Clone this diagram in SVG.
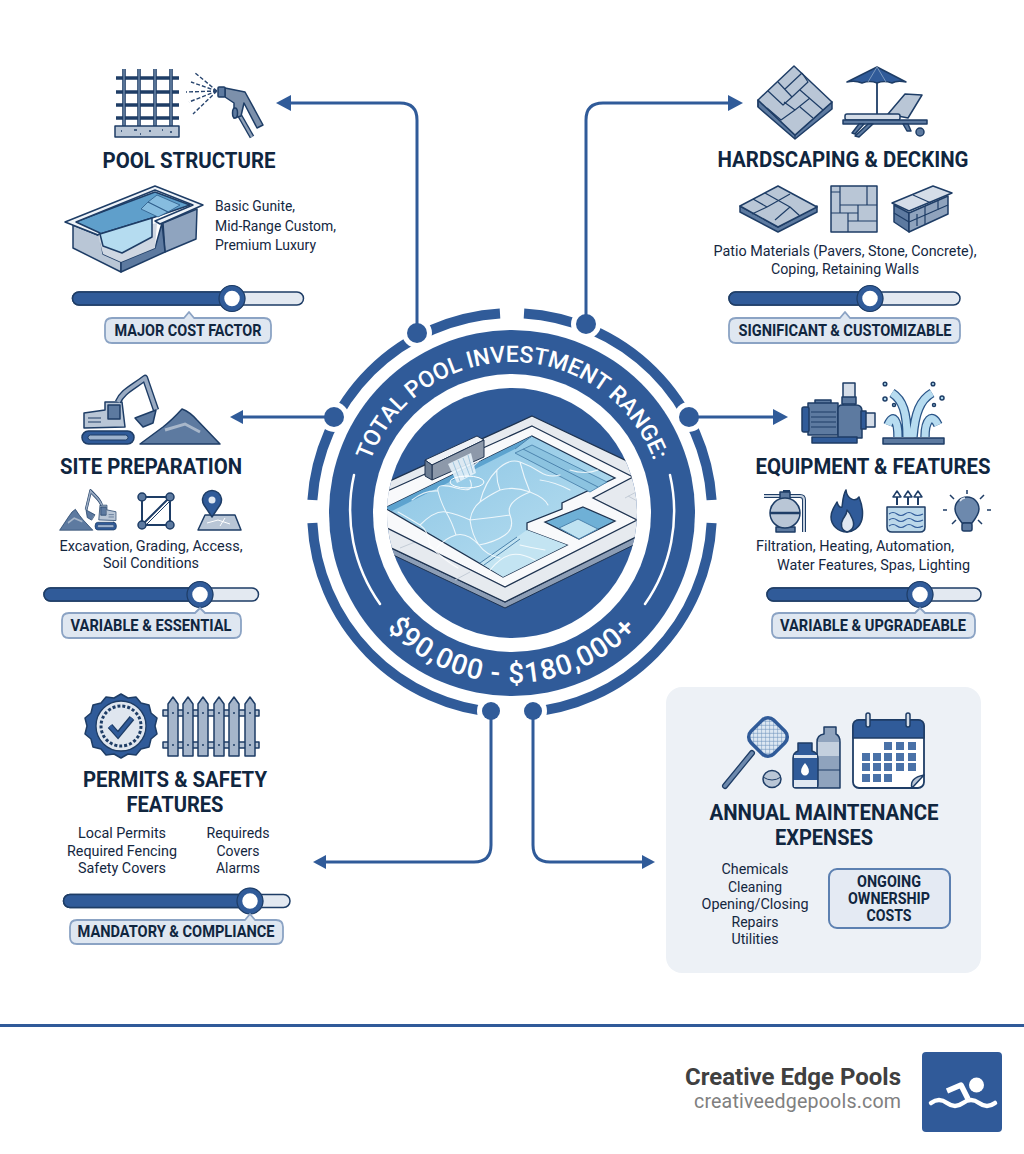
<svg xmlns="http://www.w3.org/2000/svg" width="1024" height="1154" viewBox="0 0 1024 1154">
<style>
text{font-family:Roboto,"Liberation Sans",sans-serif}
.ti{font-size:22.5px;font-weight:700;fill:#10263f;text-anchor:middle}
.bo{font-size:15px;fill:#14273f}
.m{text-anchor:middle}
.pi{font-size:16px;font-weight:700;fill:#10263f;text-anchor:middle}
.arc{fill:none;stroke:#305b99;stroke-width:10}
.con{fill:none;stroke:#305b99;stroke-width:3}
.ah{fill:#305b99}
.dot{fill:#305b99}
.ln{stroke:#1e3d66;stroke-width:1.5;stroke-linejoin:round;stroke-linecap:round}
.th{fill:none;stroke:#1e3d66;stroke-width:1.2;stroke-linejoin:round}
.g1{fill:#b9c6d6}.g2{fill:#8fa3bd}.g3{fill:#5d7aa0}.g4{fill:#d5dde8}.g5{fill:#305b99}
.tr{fill:#e3e9f1;stroke:#1e3d66;stroke-width:1.5}
.fi{fill:#305b99;stroke:#1e3d66;stroke-width:1.5}
.kn{fill:#fff;stroke:#305b99;stroke-width:5.5}
.kn2{fill:none;stroke:#1e3d66;stroke-width:1.2}
.pl{fill:#dfe7f1;stroke:#8ba3c4;stroke-width:1.8;stroke-linejoin:round}
.ca{fill:none;stroke:#fff;stroke-width:1.1;opacity:.8;stroke-linecap:round}
</style>
<defs>
<clipPath id="cp"><circle cx="512" cy="513" r="125"/></clipPath>
<linearGradient id="wa" x1="0" y1="0" x2="1" y2="1"><stop offset="0" stop-color="#86c2e3"/><stop offset="1" stop-color="#bfe2f2"/></linearGradient>
<pattern id="mesh" width="4" height="4" patternUnits="userSpaceOnUse" patternTransform="rotate(45)"><rect width="4" height="4" fill="#dce7f2"/><path d="M0 0H4M0 0V4" stroke="#6f93bd" stroke-width="1.2"/></pattern>
<g id="exc">
<path class="ln g3" d="M140 444 163 427Q172 420 182 409 190 412 197 420L220 444Z"/>
<path d="M165 430 185 424 200 432" fill="none" stroke="#a8b7ca" stroke-width="3"/>
<rect class="ln g5" x="82" y="431" width="52" height="13" rx="6.500"/>
<rect x="88" y="435" width="40" height="5" rx="2.500" fill="#9db2cd" stroke="#1e3d66"/>
<path class="ln g1" d="M84 413 105 410 105 402 122 402 125 427 84 428Z"/>
<rect class="ln g3" x="108" y="405" width="12" height="14"/>
<path d="M88 418H101M88 422H101" stroke="#1e3d66"/>
<path d="M118 402C122 392 132 388 145 378L156 410" fill="none" stroke="#1e3d66" stroke-width="6.500" stroke-linejoin="round"/>
<path d="M118 402C122 392 132 388 145 378L156 410" fill="none" stroke="#9aabc2" stroke-width="3.800" stroke-linejoin="round"/>
<path class="ln g3" d="M135 418 156 410 153 423 143 427Z"/>
</g>
</defs>
<rect width="1024" height="1154" fill="#fff"/>

<g id="center">
<path class="arc" d="M500 313.400A200 200 0 0 0 312.400 500"/>
<path class="arc" d="M524 313.400A200 200 0 0 1 711.600 500"/>
<path class="arc" d="M711.600 523A200 200 0 0 1 526 712.500"/>
<path class="arc" d="M312.400 523A200 200 0 0 0 498 712.500"/>
<circle cx="512" cy="513" r="183" fill="#305b99"/>
<circle cx="512" cy="513" r="139" fill="#fff"/>
<circle cx="512" cy="513" r="125" fill="#305b99"/>
<path d="M354 475A162 162 0 0 0 380 604M670 475A162 162 0 0 1 645 604" fill="none" stroke="#fff" stroke-width="2.500" stroke-linecap="round"/>
<path id="pt" d="M361 513A151 151 0 0 1 663 513" fill="none"/>
<path id="pb" d="M342 513A170 170 0 0 0 682 513" fill="none"/>
<text font-size="23" font-weight="500" fill="#fff" text-anchor="middle"><textPath href="#pt" startOffset="50%">TOTAL POOL INVESTMENT RANGE:</textPath></text>
<text font-size="28" font-weight="500" fill="#fff" text-anchor="middle" letter-spacing="1.200"><textPath href="#pb" startOffset="50%">$90,000 - $180,000+</textPath></text>
<g clip-path="url(#cp)">
<path d="M370 538 505 602 650 530V537L505 608 370 544Z" fill="#8c9db5" stroke="#1e3350"/>
<path d="M532 416 650 472V530L505 602 370 538V490Z" fill="#e6eaef" stroke="#1e3350" stroke-width="1.300"/>
<path d="M640 490 625 498M628 496 650 508M400 548 420 540M455 580 470 572" stroke="#c4ccd6" fill="none"/>
<path d="M532 426 633 477 593 498 637 520 505 587 385 527V492Z" fill="#f8f9fb" stroke="#1e3350" stroke-width="1.300"/>
<path d="M532 436 615 478 562 503 562 509 527 523V530L567 545 503 577 385 508Z" fill="url(#wa)" stroke="#1e3350" stroke-width="1.300"/>
<path d="M385 508 532 436 515 449 392 511Z" fill="#5da3cf"/>
<path d="M515 453 532 445 607 482 590 492Z" fill="#8cc3e0" stroke="#4c83ad" stroke-width=".9"/>
<path d="M523 449 598 487M532 436 515 449" stroke="#4c83ad" fill="none" stroke-width="1"/>
<path d="M517 537 527 530 567 545 503 577 480 563Z" fill="#c3e4f2"/>
<path d="M517 537 480 563M520 539 484 565" stroke="#4c83ad" fill="none" stroke-width="1"/>
<path d="M583 507 615 521 579 539 545 522Z" fill="#6fb0d6" stroke="#1e3350" stroke-width="1.300"/>
<path d="M578 519 598 529 579 539 559 528Z" fill="#bfe2f1" stroke="#4c83ad"/>
<path class="ca" d="M398 512Q412 520 420 525T430 546Q444 560 458 568M420 525Q435 510 446 512T470 520Q472 508 480 502T500 490Q515 486 530 492T548 505M470 520Q472 535 479 545T500 558M446 512Q440 500 438 491T456 488 470 480M480 502Q485 482 497 470T520 462 540 472 560 475M500 490Q496 480 497 470M530 492Q524 478 520 462M479 545Q495 542 505 535T510 515 530 492M437 548Q445 538 456 535T479 545M510 515Q490 518 470 520M412 500Q425 490 438 491M456 535Q452 522 446 512"/>
<path class="ca" d="M490 570Q500 558 510 555T535 560M520 545Q532 548 545 550M540 480Q555 482 570 490M470 470Q480 458 490 455M570 470Q585 475 598 470"/>
<path d="M425 460 477 436 484 440 432 465Z" fill="#eef1f5" stroke="#1e3350"/>
<path d="M432 465 484 440V457L432 480Z" fill="#8d99aa" stroke="#1e3350"/>
<path d="M425 460 432 465V480L425 476Z" fill="#6c7d93" stroke="#1e3350"/>
<path d="M448 464 471 453 476 473 457 483Z" fill="#e5f2f9" opacity=".9"/>
<path d="M453 462 460 481M458 460 465 478M463 458 470 476M468 455 473 473" stroke="#8fbcd9" stroke-width=".8"/>
<ellipse cx="467" cy="482" rx="17" ry="6" fill="none" stroke="#fff" stroke-width="1"/>
</g>
<g fill="#fff"><circle cx="417" cy="333" r="15"/><circle cx="586" cy="324" r="15"/><circle cx="334" cy="417" r="15"/><circle cx="689" cy="417" r="15"/><circle cx="491" cy="711" r="14"/><circle cx="533" cy="711" r="14"/></g>
</g>

<g id="connectors">
<path class="con" d="M417 333V120Q417 103 400 103H288"/><path class="ah" d="M276 103 291 95V111Z"/>
<path class="con" d="M586 324V120Q586 103 603 103H730"/><path class="ah" d="M743 103 728 95V111Z"/>
<path class="con" d="M334 417H241"/><path class="ah" d="M230 417 243 410V424Z"/>
<path class="con" d="M689 417H775"/><path class="ah" d="M788 417 773 409V425Z"/>
<path class="con" d="M491 711V845Q491 862 474 862H325"/><path class="ah" d="M313 862 326 855V869Z"/>
<path class="con" d="M533 711V845Q533 862 550 862H642"/><path class="ah" d="M655 862 642 855V869Z"/>
</g>
<g id="connector-dots">
<circle cx="417" cy="333" r="10" class="dot"/>
<circle cx="586" cy="324" r="10" class="dot"/>
<circle cx="334" cy="417" r="10" class="dot"/>
<circle cx="689" cy="417" r="10" class="dot"/>
<circle cx="491" cy="711" r="9" class="dot"/>
<circle cx="533" cy="711" r="9" class="dot"/>
</g>

<g id="pool-structure">
<g stroke="#1e3d66" stroke-width="3.600"><path d="M124 69V126M139 69V126M155 69V126M171 69V126M116 78H179M116 92H179M116 105H179M116 118H179" fill="none"/></g>
<g stroke="#7e98b8" stroke-width="1.200"><path d="M124 69V126M139 69V126M155 69V126M171 69V126" fill="none"/></g>
<rect class="ln g1" x="115" y="126" width="64" height="11"/>
<path d="M121 131h1M134 130h3M149 131h2M140 134h1M162 130h1M170 132h2" stroke="#1e3d66" stroke-width="1.600"/>
<path d="M217 91 194 72M217 91 191 82M217 91 186 92M217 91 189 102M217 91 193 114" stroke="#28456e" stroke-width="1.400" stroke-dasharray="4 2" fill="none"/>
<path d="M240 116 252 137" stroke="#1e3d66" stroke-width="5"/><path d="M240 116 252 137" stroke="#8ea0b8" stroke-width="2.500"/>
<path class="ln" fill="#7c90ab" d="M225 88 245 92 263 125 257 128 244 103 241 116 234 118 234 103 225 97Z"/>
<rect class="ln g3" x="218" y="87" width="7" height="10" rx="1"/>
<ellipse class="ln g3" cx="235" cy="113" rx="2.500" ry="5"/>
<text class="ti" x="189" y="168" textLength="173" lengthAdjust="spacingAndGlyphs">POOL STRUCTURE</text>
<path class="ln" fill="#8fa4bf" d="M163 223 197 209 196 239 165 252Z"/>
<path class="ln g1" d="M73 225 100 236 103 254 121 262V272L73 248Z"/>
<path class="ln g3" d="M121 262 155 248 162 223 165 252 121 272Z"/>
<path fill="#cfd7e2" d="M98 235 157 223 155 248 121 262 103 254Z"/>
<path class="ln" fill="#5f9fcb" d="M75 222 155 192 190 205 152 218 100 234Z"/>
<path class="ln" fill="#b5dcf0" d="M100 234 152 218 152 237 122 253 103 246Z"/>
<path fill="#86bcdf" stroke="#2c5a88" stroke-width=".8" d="M157 195 180 205 168 212 148 202ZM148 202 168 212 158 217 141 209Z"/>
<path class="ln" fill="#eef3f8" fill-rule="evenodd" d="M65 222 155 186 203 205 160 224 155 221 193 205 155 190 76 222 100 233 98 235Z"/>
<text class="bo" x="215" y="211" textLength="80" lengthAdjust="spacingAndGlyphs">Basic Gunite,</text>
<text class="bo" x="215" y="231" textLength="121" lengthAdjust="spacingAndGlyphs">Mid-Range Custom,</text>
<text class="bo" x="215" y="250" textLength="101" lengthAdjust="spacingAndGlyphs">Premium Luxury</text>
<rect class="tr" x="72.500" y="292" width="231" height="13" rx="6.500"/>
<path class="fi" d="M232 292H79a6.500 6.500 0 0 0 0 13H232Z"/>
<circle class="kn" cx="232" cy="298.500" r="10.500"/><circle class="kn2" cx="232" cy="298.500" r="13"/>
<path class="pl" d="M112 318H184L189 312 194 318H264Q271 318 271 325V336Q271 343 264 343H112Q105 343 105 336V325Q105 318 112 318Z"/>
<text class="pi" x="188" y="336" textLength="147" lengthAdjust="spacingAndGlyphs">MAJOR COST FACTOR</text>
</g>

<g id="hardscaping">
<path class="ln g3" d="M758 100V107L795 139 832 109V102L795 135Z"/>
<path class="ln g1" d="M794 66 832 102 795 135 758 100Z"/>
<path class="th" d="M802 73 785 89M778 82 792 97 808 82 802 73M768 91 783 105 792 97M800 90 823 110M810 98 795 110 784 102M800 107 813 118M767 108 781 120 795 110M795 135V139M758 100V107"/>
<path class="ln g5" d="M877 67 906 82Q897 80 892 83 884 80 877 83 870 80 862 83 855 80 847 82Z"/>
<path d="M877 67 868 82M877 67 886 82" stroke="#8fa8c8" stroke-width=".8"/>
<path d="M877 83V114" stroke="#1e3d66" stroke-width="1.800"/>
<path class="ln g1" d="M888 114 905 94 922 95 908 118Z"/>
<rect class="ln g4" x="845" y="114" width="55" height="6" rx="2"/>
<rect class="ln g3" x="843" y="120" width="84" height="4"/>
<path class="ln g3" d="M859 124 864 124 855 134 852 133ZM868 124 873 124 859 137 855 136ZM903 124 908 124 911 131 907 131Z"/>
<circle class="ln g3" cx="920" cy="132" r="4"/>
<text class="ti" x="843" y="167" textLength="251" lengthAdjust="spacingAndGlyphs">HARDSCAPING &amp; DECKING</text>
<path class="ln g3" d="M740 206V212L778 232 817 212V206L778 227Z"/>
<path class="ln g1" d="M778 186 817 207 778 227 740 206Z"/>
<path class="th" d="M765 193 790 207 775 220M753 199 767 207 790 194M767 207 752 214M790 207 800 216"/>
<rect class="ln g1" x="831" y="186" width="46" height="46"/>
<path class="th" d="M840 186V213M867 186V205M858 205V221M848 213V232M840 205H877M831 213H858M848 221H877M831 192H840"/>
<path class="ln g3" d="M894 205 909 213 909 232 894 222Z"/>
<path class="ln g2" d="M909 213 948 196 948 214 909 232Z"/>
<path class="ln g4" d="M892 203 933 186 952 193 909 211Z"/>
<path class="th" d="M894 213 909 222M909 222 948 205M925 206V224M938 200V210M917 214V226M913 195 931 203"/>
<text class="bo m" x="845" y="256" textLength="263" lengthAdjust="spacingAndGlyphs">Patio Materials (Pavers, Stone, Concrete),</text>
<text class="bo m" x="845" y="274" textLength="148" lengthAdjust="spacingAndGlyphs">Coping, Retaining Walls</text>
<rect class="tr" x="729" y="292" width="231" height="13" rx="6.500"/>
<path class="fi" d="M870 292H735.500a6.500 6.500 0 0 0 0 13H870Z"/>
<circle class="kn" cx="870" cy="298.500" r="10.500"/><circle class="kn2" cx="870" cy="298.500" r="13"/>
<path class="pl" d="M736 318H840L845 312 850 318H953Q960 318 960 325V336Q960 343 953 343H736Q729 343 729 336V325Q729 318 736 318Z"/>
<text class="pi" x="845" y="336" textLength="213" lengthAdjust="spacingAndGlyphs">SIGNIFICANT &amp; CUSTOMIZABLE</text>
</g>

<g id="site-preparation">
<use href="#exc"/>
<text class="ti" x="151" y="474" textLength="182" lengthAdjust="spacingAndGlyphs">SITE PREPARATION</text>
<use href="#exc" transform="translate(150 268) scale(-.41 .59)"/>
<g stroke="#1e3d66" stroke-width="2" fill="none"><path d="M142 497H170V525H142ZM142 525 170 497"/><path d="M145 526 171 500" stroke-width="1"/></g>
<g class="ln g3"><circle cx="142" cy="497" r="4"/><circle cx="170" cy="497" r="4"/><circle cx="142" cy="525" r="4"/><circle cx="170" cy="525" r="4"/></g>
<path class="ln g1" d="M205 515H235L241 530H198Z"/>
<path d="M207 523 218 520 230 524M225 518 220 526" stroke="#fff" fill="none"/>
<path class="ln g5" d="M212 517 204 505A9.500 9.500 0 1 1 220 505Z"/>
<circle cx="212" cy="500" r="3.500" fill="#dfe7f1"/>
<text class="bo m" x="151" y="551" textLength="183" lengthAdjust="spacingAndGlyphs">Excavation, Grading, Access,</text>
<text class="bo m" x="151" y="568" textLength="96" lengthAdjust="spacingAndGlyphs">Soil Conditions</text>
<rect class="tr" x="44" y="588" width="214.500" height="13" rx="6.500"/>
<path class="fi" d="M200 588H50.500a6.500 6.500 0 0 0 0 13H200Z"/>
<circle class="kn" cx="200" cy="594.500" r="10.500"/><circle class="kn2" cx="200" cy="594.500" r="13"/>
<path class="pl" d="M69 613H195L200 608 205 613H234Q241 613 241 620V631Q241 638 234 638H69Q62 638 62 631V620Q62 613 69 613Z"/>
<text class="pi" x="151" y="631" textLength="161" lengthAdjust="spacingAndGlyphs">VARIABLE &amp; ESSENTIAL</text>
</g>

<g id="equipment-features">
<rect class="ln g4" x="843" y="383" width="12" height="25"/>
<rect class="ln g4" x="860" y="413" width="15" height="14"/>
<rect class="ln g3" x="815" y="400" width="16" height="5"/>
<rect class="ln g3" x="808" y="403" width="30" height="32"/>
<rect class="ln g5" x="802" y="407" width="7" height="25" rx="2"/>
<path d="M811 412H836M811 417H836M811 422H836M811 427H836" stroke="#1e3d66"/>
<path class="ln g3" d="M838 409Q838 405 842 405H856Q862 405 862 411V438H838Z"/>
<rect class="ln g3" x="842" y="397" width="14" height="7"/>
<rect class="ln g5" x="861" y="411" width="5" height="18"/>
<rect class="ln g5" x="812" y="437" width="45" height="6"/>
<path d="M907 437C907 413 903 400 892 393M913 437C915 413 920 400 932 393M898 437C898 420 893 413 888 425M925 437C925 420 932 412 938 425" fill="none" stroke="#2a5588" stroke-width="9.500"/>
<path d="M907 437C907 413 903 400 892 393M913 437C915 413 920 400 932 393M898 437C898 420 893 413 888 425M925 437C925 420 932 412 938 425" fill="none" stroke="#b7dcf0" stroke-width="7"/>
<rect class="ln g3" x="883" y="438" width="61" height="6"/>
<g class="ln" fill="#add8ee"><circle cx="885" cy="384" r="1.800"/><circle cx="885" cy="399" r="2"/><circle cx="894" cy="405" r="1.500"/><circle cx="933" cy="384" r="1.800"/><circle cx="942" cy="398" r="2"/><circle cx="934" cy="405" r="1.500"/></g>
<text class="ti" x="873" y="474" textLength="235" lengthAdjust="spacingAndGlyphs">EQUIPMENT &amp; FEATURES</text>
<path d="M764 496H800Q804 496 804 500V532" fill="none" stroke="#1e3d66" stroke-width="4"/>
<path d="M764 496H800Q804 496 804 500V532" fill="none" stroke="#c6d1de" stroke-width="2"/>
<rect class="ln g3" x="780" y="492" width="10" height="7"/>
<path d="M783 491H790" stroke="#1e3d66" stroke-width="2"/>
<rect class="ln g3" x="776" y="527" width="19" height="5"/>
<circle class="ln g1" cx="785" cy="513" r="15"/>
<path d="M770 513H800" stroke="#1e3d66" stroke-width="2.500"/>
<path class="ln g5" d="M846 490C847 500 856 502 859 497 863 507 863 514 862 519 860 528 852 532 847 532 838 532 831 525 831 517 831 510 835 506 837 502 838 506 840 508 842 507 843 500 843 495 846 490Z"/>
<path fill="#dfe7f1" class="ln" d="M847 532C841 530 840 524 843 519 845 516 847 514 847 510 850 513 851 515 852 518 855 524 854 530 847 532Z"/>
<path class="ln" fill="#bcd8ea" d="M887 507H925V527Q925 532 920 532H892Q887 532 887 527Z"/>
<path d="M889 514Q893 511 897 514T905 514 913 514 923 514M889 520Q893 517 897 520T905 520 913 520 923 520M889 526Q893 523 897 526T905 526 913 526 923 526" fill="none" stroke="#305b99" stroke-width="1.100"/>
<path d="M897 505V496M908 505V496M918 505V496" stroke="#1e3d66" stroke-width="2"/>
<path class="ln" fill="#fff" d="M893 497 897 491 901 497ZM904 497 908 491 912 497ZM914 497 918 491 922 497Z" stroke-width="1"/>
<path class="ln" fill="#6d89ad" d="M962 523C958 518 955 514 955 509A12 12 0 0 1 979 509C979 514 976 518 972 523Z"/>
<path d="M960 501Q962 498 965 498" stroke="#dfe7f1" stroke-width="1.500" fill="none"/>
<rect class="ln g3" x="962" y="523" width="10" height="8" rx="2"/>
<path d="M967 490V494M950 495 954 499M984 495 980 499M947 510H943M987 510H991M952 524 956 520M982 524 978 520" stroke="#1e3d66" stroke-width="1.500"/>
<text class="bo" x="756" y="551" textLength="198" lengthAdjust="spacingAndGlyphs">Filtration, Heating, Automation,</text>
<text class="bo" x="777" y="570" textLength="193" lengthAdjust="spacingAndGlyphs">Water Features, Spas, Lighting</text>
<rect class="tr" x="767" y="588" width="214" height="13" rx="6.500"/>
<path class="fi" d="M920 588H773.500a6.500 6.500 0 0 0 0 13H920Z"/>
<circle class="kn" cx="920" cy="594.500" r="10.500"/><circle class="kn2" cx="920" cy="594.500" r="13"/>
<path class="pl" d="M779 613H915L920 608 925 613H968Q975 613 975 620V631Q975 638 968 638H779Q772 638 772 631V620Q772 613 779 613Z"/>
<text class="pi" x="873" y="631" textLength="186" lengthAdjust="spacingAndGlyphs">VARIABLE &amp; UPGRADEABLE</text>
</g>

<g id="permits-safety">
<path class="g5 ln" d="M121 694 128 698 136 697 141 703 149 705 151 713 157 718 155 726 157 734 151 739 149 747 141 749 136 755 128 754 121 758 114 754 106 755 101 749 93 747 91 739 85 734 87 726 85 718 91 713 93 705 101 703 106 697 114 698Z"/>
<circle cx="121" cy="726" r="25" fill="#dfe6ef" stroke="#1e3d66" stroke-width="1.300"/>
<circle cx="121" cy="726" r="20" fill="none" stroke="#1e3d66" stroke-width="3" stroke-dasharray="3 2"/>
<circle cx="121" cy="726" r="16.500" fill="#dfe6ef"/>
<path d="M110 726 118 735 132 718" fill="none" stroke="#1e3d66" stroke-width="6"/><path d="M110 726 118 735 132 718" fill="none" stroke="#305b99" stroke-width="3.500"/>
<g class="ln g1"><rect x="163" y="710" width="96" height="6"/><rect x="163" y="742" width="96" height="6"/></g>
<path class="ln" fill="#a6b6cb" d="M168 756V704L173 697 178 704V756ZM183 756V704L188 697 193 704V756ZM198 756V704L203 697 208 704V756ZM214 756V704L219 697 224 704V756ZM229 756V704L234 697 239 704V756ZM245 756V704L250 697 255 704V756Z"/>
<path d="M173 713v.1M188 713v.1M203 713v.1M219 713v.1M234 713v.1M250 713v.1M173 745v.1M188 745v.1M203 745v.1M219 745v.1M234 745v.1M250 745v.1" stroke="#1e3d66" stroke-width="2" stroke-linecap="round"/>
<text class="ti" x="175" y="787" textLength="184" lengthAdjust="spacingAndGlyphs">PERMITS &amp; SAFETY</text>
<text class="ti" x="175" y="812" textLength="97" lengthAdjust="spacingAndGlyphs">FEATURES</text>
<text class="bo m" x="122" y="838" textLength="88" lengthAdjust="spacingAndGlyphs">Local Permits</text>
<text class="bo m" x="122" y="856" textLength="110" lengthAdjust="spacingAndGlyphs">Required Fencing</text>
<text class="bo m" x="122" y="873" textLength="88" lengthAdjust="spacingAndGlyphs">Safety Covers</text>
<text class="bo m" x="238" y="838" textLength="63" lengthAdjust="spacingAndGlyphs">Requireds</text>
<text class="bo m" x="238" y="856" textLength="43" lengthAdjust="spacingAndGlyphs">Covers</text>
<text class="bo m" x="238" y="873" textLength="44" lengthAdjust="spacingAndGlyphs">Alarms</text>
<rect class="tr" x="63.500" y="894.500" width="226.500" height="13" rx="6.500"/>
<path class="fi" d="M250 894.500H70a6.500 6.500 0 0 0 0 13H250Z"/>
<circle class="kn" cx="250" cy="901" r="10.500"/><circle class="kn2" cx="250" cy="901" r="13"/>
<path class="pl" d="M77 920H245L250 914 255 920H276Q283 920 283 927V937Q283 944 276 944H77Q70 944 70 937V927Q70 920 77 920Z"/>
<text class="pi" x="176" y="937" textLength="197" lengthAdjust="spacingAndGlyphs">MANDATORY &amp; COMPLIANCE</text>
</g>

<g id="annual-maintenance">
<rect x="666" y="687" width="315" height="286" rx="16" fill="#edf1f6"/>
<path d="M752 753 725 786" stroke="#1e3d66" stroke-width="6" stroke-linecap="round"/><path d="M752 753 725 786" stroke="#6d89ad" stroke-width="3.500" stroke-linecap="round"/>
<rect x="752" y="721" width="32" height="32" rx="8" transform="rotate(45 768 737)" fill="url(#mesh)" stroke="#305b99" stroke-width="3.500"/>
<ellipse class="ln g1" cx="772" cy="779" rx="9" ry="8.500"/><path d="M763 777Q772 783 781 777" stroke="#1e3d66" fill="none"/>
<path class="ln g2" d="M817 742Q817 735 824 734V727H836V734Q840 736 840 742V788H817Z"/>
<rect x="818" y="742" width="21" height="14" fill="#c4d0de"/><path d="M817 770H840" stroke="#1e3d66"/>
<path class="ln" fill="#305b99" d="M793 758Q793 753 798 751V743H812V751Q818 753 818 758V785Q818 788 815 788H796Q793 788 793 785Z"/>
<rect x="794" y="755" width="23" height="3" fill="#dfe7f1"/><rect x="794" y="780" width="23" height="7" fill="#dfe7f1"/>
<path d="M805 763Q811 770 808 774 805 777 802 774 799 770 805 763Z" fill="#fff"/>
<rect x="853" y="720" width="71" height="68" rx="6" fill="#fff" stroke="#1e3d66" stroke-width="1.800"/>
<path class="ln g5" d="M853 738V726Q853 720 859 720H918Q924 720 924 726V738Z"/>
<g class="ln g4"><rect x="866" y="713" width="4" height="14" rx="2"/><rect x="906" y="713" width="4" height="14" rx="2"/></g>
<g fill="#4a72a8"><rect x="884" y="742" width="8" height="8"/><rect x="896" y="742" width="8" height="8"/><rect x="908" y="742" width="8" height="8"/>
<rect x="862" y="753" width="8" height="8"/><rect x="873" y="753" width="8" height="8"/><rect x="884" y="753" width="8" height="8"/><rect x="896" y="753" width="8" height="8"/><rect x="908" y="753" width="8" height="8"/>
<rect x="862" y="763" width="8" height="8"/><rect x="873" y="763" width="8" height="8"/><rect x="884" y="763" width="8" height="8"/><rect x="896" y="763" width="8" height="8"/><rect x="908" y="763" width="8" height="8"/>
<rect x="862" y="774" width="8" height="8"/><rect x="873" y="774" width="8" height="8"/><rect x="884" y="774" width="8" height="8"/></g>
<path class="ln g1" d="M924 775 912 788Q909 778 924 775Z"/>
<text class="ti" x="824" y="820" textLength="229" lengthAdjust="spacingAndGlyphs">ANNUAL MAINTENANCE</text>
<text class="ti" x="824" y="845" textLength="98" lengthAdjust="spacingAndGlyphs">EXPENSES</text>
<text class="bo m" x="755" y="874" textLength="67" lengthAdjust="spacingAndGlyphs">Chemicals</text>
<text class="bo m" x="755" y="892" textLength="54" lengthAdjust="spacingAndGlyphs">Cleaning</text>
<text class="bo m" x="755" y="909" textLength="107" lengthAdjust="spacingAndGlyphs">Opening/Closing</text>
<text class="bo m" x="755" y="927" textLength="47" lengthAdjust="spacingAndGlyphs">Repairs</text>
<text class="bo m" x="755" y="944" textLength="47" lengthAdjust="spacingAndGlyphs">Utilities</text>
<rect x="829" y="869" width="121" height="59" rx="8" fill="#e4eaf3" stroke="#5c80b1" stroke-width="2"/>
<text class="pi" x="889" y="887" textLength="64" lengthAdjust="spacingAndGlyphs">ONGOING</text>
<text class="pi" x="889" y="904" textLength="82" lengthAdjust="spacingAndGlyphs">OWNERSHIP</text>
<text class="pi" x="889" y="921" textLength="45" lengthAdjust="spacingAndGlyphs">COSTS</text>
</g>

<g id="footer">
<rect y="1024" width="1024" height="3" fill="#305a99"/>
<text x="901" y="1084.500" font-size="24" font-weight="700" fill="#404040" text-anchor="end">Creative Edge Pools</text>
<text x="901" y="1108" font-size="19.600" fill="#808080" text-anchor="end" textLength="207">creativeedgepools.com</text>
<rect x="922" y="1052" width="80" height="80" rx="4" fill="#305a99"/>
<circle cx="976.500" cy="1085" r="7.500" fill="#fff"/>
<path d="M947 1091 961 1085 968 1099" fill="none" stroke="#fff" stroke-width="5.500" stroke-linejoin="round"/>
<path d="M931 1103Q939 1097 947 1103T963 1103 979 1103 995 1103" fill="none" stroke="#fff" stroke-width="4.500" stroke-linecap="round"/>
</g>
</svg>
